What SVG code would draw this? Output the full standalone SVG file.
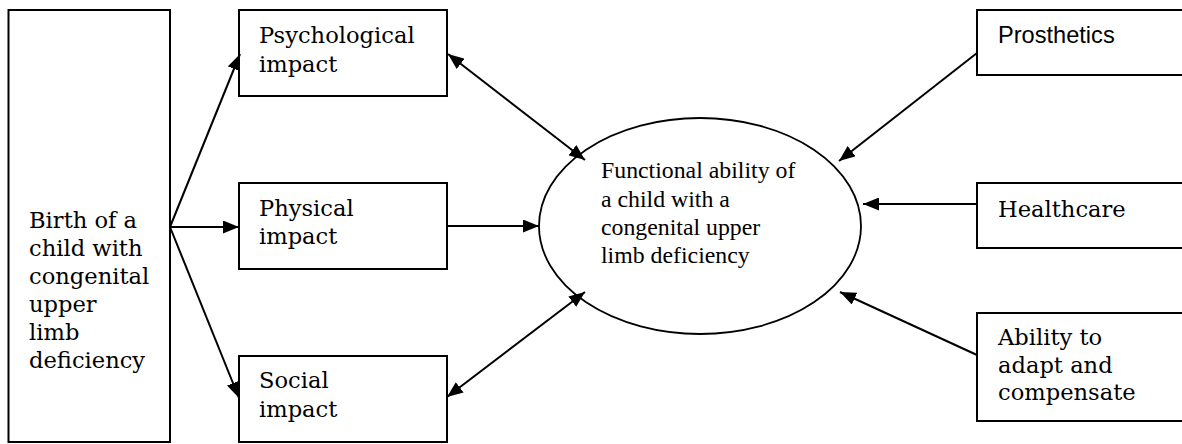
<svg xmlns="http://www.w3.org/2000/svg" width="1182" height="444" viewBox="0 0 1182 444">
<style>
.box{fill:#fff;stroke:#000;stroke-width:2}
.bk{font-family:"DejaVu Serif",serif;font-size:22.6px;fill:#000}
.tm{font-family:"Liberation Serif","Times New Roman",serif;font-size:23.8px;fill:#000}
.ar{font-family:"Liberation Sans",Arial,sans-serif;font-size:23.6px;fill:#000}
.c{stroke:#000;stroke-width:2;fill:none}
</style>
<defs>
<marker id="ah" viewBox="0 0 16 13" refX="16" refY="6.5" markerWidth="16" markerHeight="13" markerUnits="userSpaceOnUse" orient="auto-start-reverse">
<path d="M0,0 L16,6.5 L0,13 z" fill="#000"/>
</marker>
</defs>
<rect width="1182" height="444" fill="#fff"/>
<g id="birth">
<rect class="box" x="8.5" y="10" width="161.5" height="432"/>
<text class="bk"><tspan x="29" y="228">Birth of a</tspan><tspan x="29" y="256">child with</tspan><tspan x="29" y="284">congenital</tspan><tspan x="29" y="312">upper</tspan><tspan x="29" y="340">limb</tspan><tspan x="29" y="368">deficiency</tspan></text>
</g>
<g id="psychological">
<rect class="box" x="239" y="10" width="208" height="86"/>
<text class="bk"><tspan x="259" y="43">Psychological</tspan><tspan x="259" y="72">impact</tspan></text>
</g>
<g id="physical">
<rect class="box" x="239" y="183" width="208" height="86"/>
<text class="bk"><tspan x="259" y="216">Physical</tspan><tspan x="259" y="244">impact</tspan></text>
</g>
<g id="social">
<rect class="box" x="239" y="356" width="208" height="86"/>
<text class="bk"><tspan x="259" y="388">Social</tspan><tspan x="259" y="417">impact</tspan></text>
</g>
<g id="functional">
<ellipse cx="700" cy="226" rx="161" ry="108" fill="#fff" stroke="#000" stroke-width="1.8"/>
<text class="tm"><tspan x="601" y="178">Functional ability of</tspan><tspan x="601" y="207">a child with a</tspan><tspan x="601" y="235">congenital upper</tspan><tspan x="601" y="263">limb deficiency</tspan></text>
</g>
<g id="prosthetics">
<rect class="box" x="977" y="10" width="215" height="65"/>
<text class="ar" x="998" y="43">Prosthetics</text>
</g>
<g id="healthcare">
<rect class="box" x="977" y="183" width="215" height="65"/>
<text class="bk" x="998" y="217">Healthcare</text>
</g>
<g id="ability">
<rect class="box" x="977" y="313" width="215" height="108"/>
<text class="bk"><tspan x="998" y="345">Ability to</tspan><tspan x="998" y="373">adapt and</tspan><tspan x="998" y="400">compensate</tspan></text>
</g>
<g id="connectors">
<line class="c" x1="170" y1="227" x2="240" y2="54" marker-end="url(#ah)"/>
<line class="c" x1="170" y1="227" x2="239" y2="227" marker-end="url(#ah)"/>
<line class="c" x1="170" y1="227" x2="239" y2="398" marker-end="url(#ah)"/>
<line class="c" x1="448" y1="54" x2="585" y2="160" marker-start="url(#ah)" marker-end="url(#ah)"/>
<line class="c" x1="447" y1="226" x2="539" y2="226" marker-end="url(#ah)"/>
<line class="c" x1="447" y1="397" x2="585" y2="292" marker-start="url(#ah)" marker-end="url(#ah)"/>
<line class="c" x1="977" y1="53" x2="839" y2="161" marker-end="url(#ah)"/>
<line class="c" x1="977" y1="204" x2="863" y2="204" marker-end="url(#ah)"/>
<line class="c" x1="977" y1="355" x2="840" y2="292" marker-end="url(#ah)"/>
</g>
</svg>
